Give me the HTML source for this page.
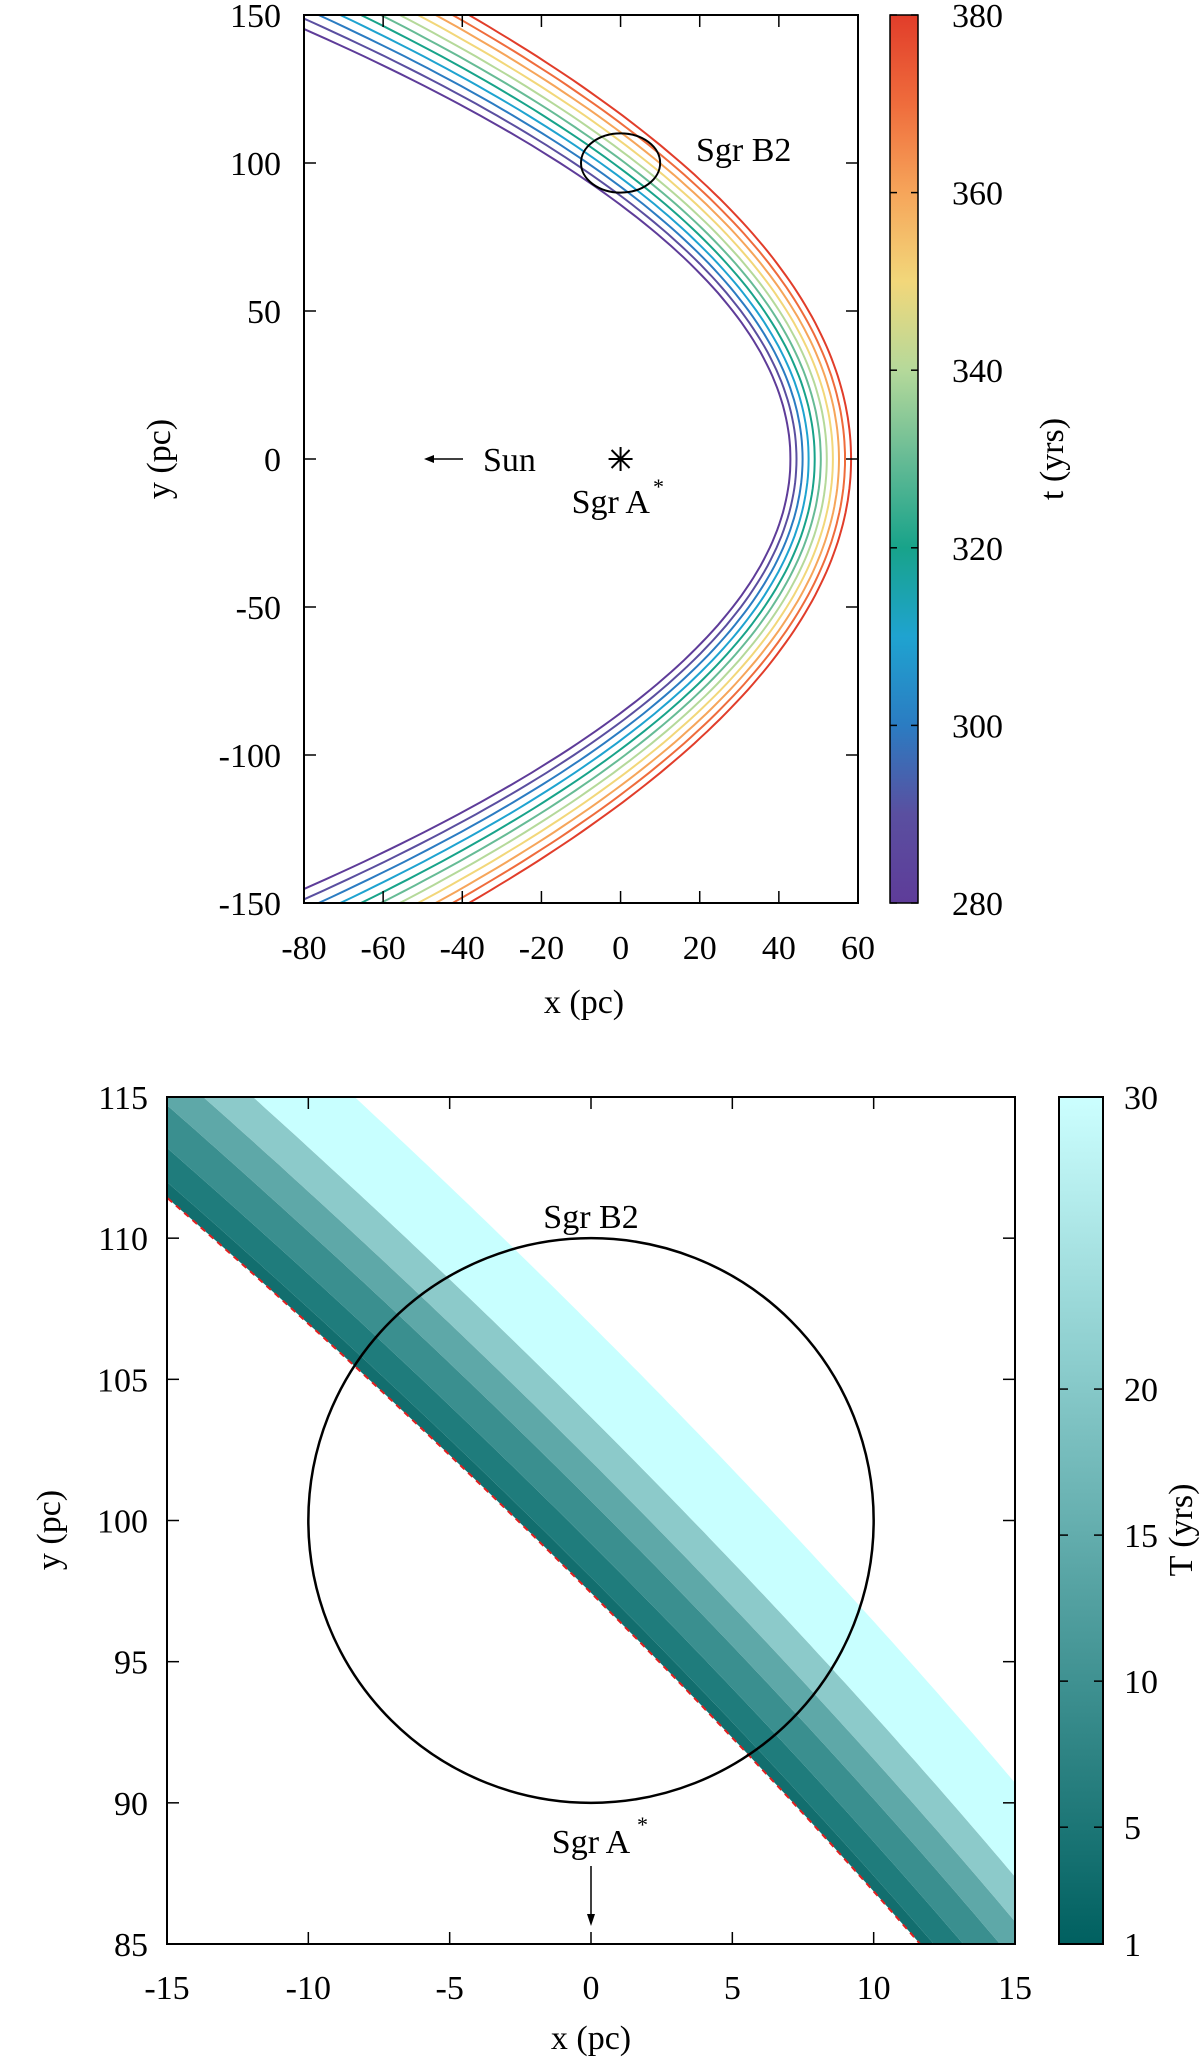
<!DOCTYPE html>
<html><head><meta charset="utf-8"><style>
html,body{margin:0;padding:0;background:#fff;overflow:hidden;width:1200px;height:2059px;}
svg{display:block;font-family:"Liberation Serif",serif;}
text{fill:#000;}
</style></head><body>
<svg id="fig" width="1200" height="2059" viewBox="0 0 1200 2059" xmlns="http://www.w3.org/2000/svg">
<defs>
<clipPath id="clipTop"><rect x="304" y="15" width="554" height="888"/></clipPath>
<clipPath id="clipBot"><rect x="167" y="1097" width="848" height="847"/></clipPath>
<linearGradient id="gradTop" x1="0" y1="1" x2="0" y2="0">
<stop offset="0" stop-color="#5e3c99"/><stop offset="0.1" stop-color="#5a4fa0"/><stop offset="0.2" stop-color="#2b7cc2"/>
<stop offset="0.3" stop-color="#1fa3d0"/><stop offset="0.4" stop-color="#18a38a"/><stop offset="0.5" stop-color="#66bb95"/>
<stop offset="0.6" stop-color="#b5d99a"/><stop offset="0.7" stop-color="#f2d77a"/><stop offset="0.8" stop-color="#f6a55a"/>
<stop offset="0.9" stop-color="#ef6c3c"/><stop offset="1" stop-color="#e13d2a"/>
</linearGradient>
<linearGradient id="gradBot" x1="0" y1="1" x2="0" y2="0">
<stop offset="0" stop-color="#006060"/><stop offset="1" stop-color="#ccffff"/>
</linearGradient>
</defs>
<g id="top"></g>
<g id="bot"></g>
</svg>
<script>
// ---- top chart data ----
const times = [280, 290, 300, 310, 320, 330, 340, 350, 360, 370, 380];
const timeColors = ["#5e3c99","#5a4fa0","#2b7cc2","#1fa3d0","#18a38a","#66bb95","#b5d99a","#f2d77a","#f6a55a","#ef6c3c","#e13d2a"];
const topXTicks = [-80, -60, -40, -20, 0, 20, 40, 60];
const topYTicks = [-150, -100, -50, 0, 50, 100, 150];
const topCbTicks = [280, 300, 320, 340, 360, 380];
// ---- bottom chart data ----
const bandLevels = [0, 1.8, 5.7, 10.6, 15.2, 20.3, 31];
const bandColors = ["#126e6e","#1f7c7c","#3a8f8f","#5ea8a8","#8ccaca","#c8ffff"];
const botXTicks = [-15, -10, -5, 0, 5, 10, 15];
const botYTicks = [85, 90, 95, 100, 105, 110, 115];
const botCbTicks = [1, 5, 10, 15, 20, 30];
const c = 0.3066; // pc per yr
const t0 = 317.8; // yr, lower boundary of bottom band

const NS = "http://www.w3.org/2000/svg";
const FS = 34;
function mk(parent, tag, attrs, txt) {
  const e = document.createElementNS(NS, tag);
  for (const k in attrs) e.setAttribute(k, attrs[k]);
  if (txt !== undefined) e.textContent = txt;
  parent.appendChild(e);
  return e;
}
// ===== TOP =====
const gT = document.getElementById('top');
const TX0 = 304, TX1 = 858, TY0 = 15, TY1 = 903;
const txs = v => TX0 + (v + 80) / 140 * (TX1 - TX0);
const tys = v => TY1 - (v + 150) / 300 * (TY1 - TY0);
const curves = mk(gT, 'g', {'clip-path': 'url(#clipTop)'});


times.forEach((t, i) => {
  const D = c * t;
  let d = '';
  for (let y = -170; y <= 170; y += 2) {
    const x = D / 2 - y * y / (2 * D);
    d += (d ? 'L' : 'M') + txs(x).toFixed(1) + ',' + tys(y).toFixed(1);
  }
  const p = mk(curves, 'path', {d: d, fill: 'none', stroke: timeColors[i], 'stroke-width': 2});
  
  
});
const fT = mk(gT, 'rect', {x: TX0, y: TY0, width: TX1 - TX0, height: TY1 - TY0, fill: 'none', stroke: '#000', 'stroke-width': 2});


topXTicks.forEach(v => {
  const x = txs(v);
  mk(gT, 'line', {x1: x, y1: TY1, x2: x, y2: TY1 - 12, stroke: '#000', 'stroke-width': 1.5});
  mk(gT, 'line', {x1: x, y1: TY0, x2: x, y2: TY0 + 12, stroke: '#000', 'stroke-width': 1.5});
  const l = mk(gT, 'text', {x: x, y: 959, 'font-size': FS, 'text-anchor': 'middle'}, v);
  
  
});
topYTicks.forEach(v => {
  const y = tys(v);
  mk(gT, 'line', {x1: TX0, y1: y, x2: TX0 + 12, y2: y, stroke: '#000', 'stroke-width': 1.5});
  mk(gT, 'line', {x1: TX1, y1: y, x2: TX1 - 12, y2: y, stroke: '#000', 'stroke-width': 1.5});
  const l = mk(gT, 'text', {x: 281, y: y + 12, 'font-size': FS, 'text-anchor': 'end'}, v);
  
  
});
const cT = mk(gT, 'ellipse', {cx: txs(0), cy: tys(100), rx: txs(10) - txs(0), ry: tys(90) - tys(100), fill: 'none', stroke: '#000', 'stroke-width': 2});


const sb = mk(gT, 'text', {x: 696, y: 161, 'font-size': FS}, 'Sgr B2');


const sx = txs(0), sy = tys(0);
const star = mk(gT, 'g', {stroke: '#000', 'stroke-width': 2});


mk(star, 'line', {x1: sx - 12, y1: sy, x2: sx + 12, y2: sy});
mk(star, 'line', {x1: sx, y1: sy - 12, x2: sx, y2: sy + 12});
mk(star, 'line', {x1: sx - 9, y1: sy - 9, x2: sx + 9, y2: sy + 9});
mk(star, 'line', {x1: sx - 9, y1: sy + 9, x2: sx + 9, y2: sy - 9});
const sa = mk(gT, 'text', {x: 650, y: 513, 'font-size': FS, 'text-anchor': 'end'}, 'Sgr A');


mk(gT, 'text', {x: 653, y: 494, 'font-size': 22}, '*');
const arr = mk(gT, 'g', {});


mk(arr, 'line', {x1: 463, y1: sy, x2: 428, y2: sy, stroke: '#000', 'stroke-width': 1.5});
mk(arr, 'path', {d: `M424,${sy} L434,${sy - 4} L434,${sy + 4} Z`, fill: '#000'});
const sun = mk(gT, 'text', {x: 483, y: sy + 12, 'font-size': FS}, 'Sun');


const xl = mk(gT, 'text', {x: 584, y: 1013, 'font-size': FS, 'text-anchor': 'middle'}, 'x (pc)');


const yl = mk(gT, 'text', {x: 0, y: 0, 'font-size': FS, 'text-anchor': 'middle', transform: 'translate(170,459) rotate(-90)'}, 'y (pc)');


const cbT = mk(gT, 'rect', {x: 890, y: TY0, width: 28, height: TY1 - TY0, fill: 'url(#gradTop)', stroke: '#000', 'stroke-width': 1.5});


topCbTicks.forEach(v => {
  const y = TY1 - (v - 280) / 100 * (TY1 - TY0);
  mk(gT, 'line', {x1: 890, y1: y, x2: 897, y2: y, stroke: '#000', 'stroke-width': 1.5});
  mk(gT, 'line', {x1: 918, y1: y, x2: 911, y2: y, stroke: '#000', 'stroke-width': 1.5});
  const l = mk(gT, 'text', {x: 952, y: y + 12, 'font-size': FS}, v);
  
  
});
const ct = mk(gT, 'text', {x: 0, y: 0, 'font-size': FS, 'text-anchor': 'middle', transform: 'translate(1063,459) rotate(-90)'}, 't (yrs)');



// ===== BOTTOM =====
const gB = document.getElementById('bot');
const BX0 = 167, BX1 = 1015, BY0 = 1097, BY1 = 1944;
const bxs = v => BX0 + (v + 15) / 30 * (BX1 - BX0);
const bys = v => BY1 - (v - 85) / 30 * (BY1 - BY0);
function curvePts(D, rev) {
  const pts = [];
  for (let x = -20; x <= 20.001; x += 0.25) {
    const y = Math.sqrt(Math.max(0, D * (D - 2 * x)));
    pts.push(bxs(x).toFixed(1) + ',' + bys(y).toFixed(1));
  }
  if (rev) pts.reverse();
  return pts;
}
const bands = mk(gB, 'g', {'clip-path': 'url(#clipBot)'});


for (let i = 0; i < bandColors.length; i++) {
  const Da = c * (t0 + bandLevels[i]), Db = c * (t0 + bandLevels[i + 1]);
  const pts = curvePts(Da, false).concat(curvePts(Db, true));
  const p = mk(bands, 'path', {d: 'M' + pts.join('L') + 'Z', fill: bandColors[i]});
  
  
}
const red = mk(bands, 'path', {d: 'M' + curvePts(c * t0, false).join('L'), fill: 'none', stroke: '#e02020', 'stroke-width': 2, 'stroke-dasharray': '6,5'});


const cB = mk(gB, 'ellipse', {cx: bxs(0), cy: bys(100), rx: bxs(10) - bxs(0), ry: bys(90) - bys(100), fill: 'none', stroke: '#000', 'stroke-width': 2.5});


const fB = mk(gB, 'rect', {x: BX0, y: BY0, width: BX1 - BX0, height: BY1 - BY0, fill: 'none', stroke: '#000', 'stroke-width': 2});


botXTicks.forEach(v => {
  const x = bxs(v);
  mk(gB, 'line', {x1: x, y1: BY1, x2: x, y2: BY1 - 12, stroke: '#000', 'stroke-width': 1.5});
  mk(gB, 'line', {x1: x, y1: BY0, x2: x, y2: BY0 + 12, stroke: '#000', 'stroke-width': 1.5});
  const l = mk(gB, 'text', {x: x, y: 1999, 'font-size': FS, 'text-anchor': 'middle'}, v);
  
  
});
botYTicks.forEach(v => {
  const y = bys(v);
  mk(gB, 'line', {x1: BX0, y1: y, x2: BX0 + 12, y2: y, stroke: '#000', 'stroke-width': 1.5});
  mk(gB, 'line', {x1: BX1, y1: y, x2: BX1 - 12, y2: y, stroke: '#000', 'stroke-width': 1.5});
  const l = mk(gB, 'text', {x: 148, y: y + 12, 'font-size': FS, 'text-anchor': 'end'}, v);
  
  
});
const sb2 = mk(gB, 'text', {x: bxs(0), y: 1228, 'font-size': FS, 'text-anchor': 'middle'}, 'Sgr B2');


const sa2 = mk(gB, 'text', {x: bxs(0), y: 1853, 'font-size': FS, 'text-anchor': 'middle'}, 'Sgr A');


mk(gB, 'text', {x: bxs(0) + 46, y: 1832, 'font-size': 22}, '*');
const arr2 = mk(gB, 'g', {});


mk(arr2, 'line', {x1: bxs(0), y1: 1866, x2: bxs(0), y2: 1920, stroke: '#000', 'stroke-width': 1.5});
mk(arr2, 'path', {d: `M${bxs(0)},1926 L${bxs(0) - 4},1914 L${bxs(0) + 4},1914 Z`, fill: '#000'});
const xl2 = mk(gB, 'text', {x: 591, y: 2049, 'font-size': FS, 'text-anchor': 'middle'}, 'x (pc)');


const yl2 = mk(gB, 'text', {x: 0, y: 0, 'font-size': FS, 'text-anchor': 'middle', transform: 'translate(60,1530) rotate(-90)'}, 'y (pc)');


const cbB = mk(gB, 'rect', {x: 1059, y: BY0, width: 44, height: BY1 - BY0, fill: 'url(#gradBot)', stroke: '#000', 'stroke-width': 2});


botCbTicks.forEach(v => {
  const y = BY1 - (v - 1) / 29 * (BY1 - BY0);
  mk(gB, 'line', {x1: 1059, y1: y, x2: 1068, y2: y, stroke: '#000', 'stroke-width': 1.5});
  mk(gB, 'line', {x1: 1103, y1: y, x2: 1094, y2: y, stroke: '#000', 'stroke-width': 1.5});
  const l = mk(gB, 'text', {x: 1124, y: y + 12, 'font-size': FS}, v);
  
  
});
const ct2 = mk(gB, 'text', {x: 0, y: 0, 'font-size': FS, 'text-anchor': 'middle', transform: 'translate(1192,1530) rotate(-90)'}, 'T (yrs)');


</script>
</body></html>
